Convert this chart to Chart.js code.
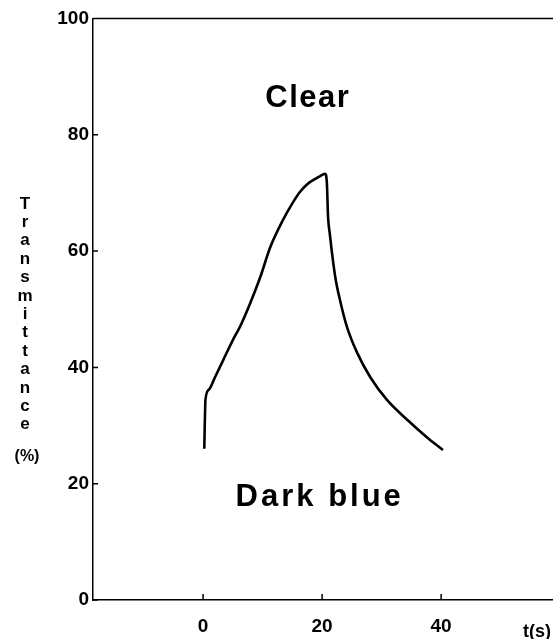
<!DOCTYPE html>
<html>
<head>
<meta charset="utf-8">
<script src="https://cdn.jsdelivr.net/npm/chart.js@4.4.1/dist/chart.umd.min.js"></script>
<style>
    html, body { margin: 0; padding: 0; background: #fff; }
    #wrap { width: 553px; height: 639px; }
</style>
</head>
<body>
<div id="wrap"><canvas id="transChart" width="553" height="639"></canvas></div>
<script>
// data
const timeS = [0.2, 0.3, 0.4, 1.0, 2.0, 3.4, 5.0, 6.2, 7.9, 9.6, 11.3, 13.4, 15.0, 16.3, 17.5, 18.5, 19.5, 20.5,
    20.8, 21.0, 21.3, 21.6, 22.2, 23.0, 24.2, 25.9, 28.1, 30.9, 34.3, 37.6, 40.3];
const transmittance = [26.0, 31.0, 34.5, 36.2, 38.3, 41.3, 44.7, 47.0, 51.0, 55.5, 60.7, 65.3, 68.2, 70.2, 71.5, 72.2, 72.8, 73.3,
    71.7, 65.9, 62.9, 60.2, 55.6, 51.6, 46.9, 42.5, 38.3, 34.4, 31.0, 28.0, 25.8];
const xTicks = [0, 20, 40];
const yTicks = [0, 20, 40, 60, 80, 100];
const yTitle = 'Transmittance';

const boldFont = '"Liberation Sans", Arial, Helvetica, sans-serif';

const points = timeS.map(function (t, i) { return { x: t, y: transmittance[i] }; });

// inward ticks, top frame line and the free text
const decorPlugin = {
    id: 'decor',
    afterDraw: function (chart) {
        const ctx = chart.ctx;
        const area = chart.chartArea;
        const xs = chart.scales.x;
        const ys = chart.scales.y;
        ctx.save();
        ctx.strokeStyle = '#000';
        ctx.lineWidth = 1.5;
        ctx.beginPath();
        ctx.moveTo(area.left, area.top);
        ctx.lineTo(area.right, area.top);
        xTicks.forEach(function (v) {
            const px = xs.getPixelForValue(v);
            ctx.moveTo(px, area.bottom);
            ctx.lineTo(px, area.bottom - 6);
        });
        yTicks.forEach(function (v) {
            const py = ys.getPixelForValue(v);
            ctx.moveTo(area.left, py);
            ctx.lineTo(area.left + 5, py);
        });
        ctx.stroke();

        ctx.fillStyle = '#000';
        ctx.textAlign = 'center';
        ctx.textBaseline = 'middle';

        ctx.font = 'bold 31px ' + boldFont;
        ctx.letterSpacing = '1.5px';
        ctx.fillText('Clear', xs.getPixelForValue(17.6), ys.getPixelForValue(86.3));
        ctx.letterSpacing = '3px';
        ctx.fillText('Dark blue', xs.getPixelForValue(19.6), ys.getPixelForValue(17.7));
        ctx.letterSpacing = '0px';

        // stacked y title
        ctx.font = 'bold 17px ' + boldFont;
        const letters = yTitle.split('');
        letters.forEach(function (ch, i) {
            ctx.fillText(ch, 25, 204 + i * 18.4);
        });
        ctx.font = 'bold 16px ' + boldFont;
        ctx.fillText('(%)', 27, 457);

        ctx.textAlign = 'left';
        ctx.font = 'bold 18px ' + boldFont;
        ctx.fillText('t(s)', 523, 632);
        ctx.restore();
    }
};

new Chart(document.getElementById('transChart'), {
    type: 'scatter',
    data: {
        datasets: [{
            data: points,
            showLine: true,
            borderColor: '#000',
            borderWidth: 2.6,
            pointRadius: 0,
            cubicInterpolationMode: 'monotone',
            fill: false
        }]
    },
    options: {
        responsive: false,
        animation: false,
        events: [],
        layout: { padding: { top: 18.5, right: 0, left: 0, bottom: 0 } },
        plugins: {
            legend: { display: false },
            tooltip: { enabled: false }
        },
        scales: {
            x: {
                type: 'linear',
                min: -18.5,
                max: 58.8,
                afterBuildTicks: function (scale) {
                    scale.ticks = xTicks.map(function (v) { return { value: v }; });
                },
                afterFit: function (scale) { scale.height = 39; },
                grid: { display: false, drawTicks: false },
                border: { display: true, color: '#000', width: 1.5 },
                ticks: {
                    padding: 15,
                    color: '#000',
                    font: { family: boldFont, size: 19, weight: 'bold' },
                    maxRotation: 0
                }
            },
            y: {
                min: 0,
                max: 100,
                afterBuildTicks: function (scale) {
                    scale.ticks = yTicks.map(function (v) { return { value: v }; });
                },
                afterFit: function (scale) { scale.width = 93; },
                grid: { display: false, drawTicks: false },
                border: { display: true, color: '#000', width: 1.5 },
                ticks: {
                    padding: 4,
                    color: '#000',
                    font: { family: boldFont, size: 19, weight: 'bold' }
                }
            }
        }
    },
    plugins: [decorPlugin]
});
</script>
</body>
</html>
